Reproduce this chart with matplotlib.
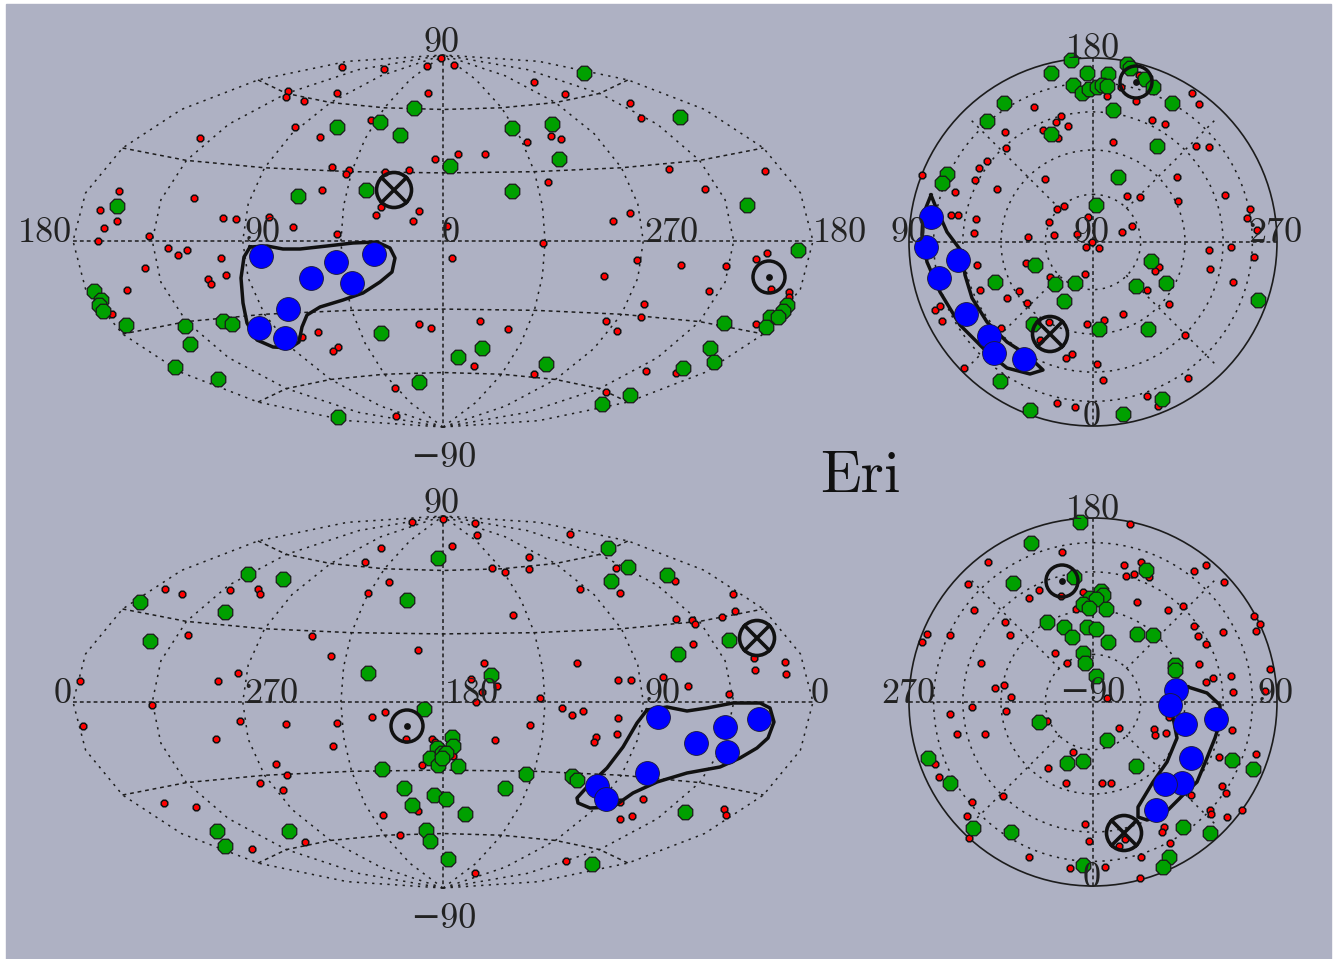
import numpy as np
from matplotlib import pyplot as plt
from matplotlib.patches import Rectangle, Circle

# top left panel
tl_red = [(342,67),(384,69),(427,66),(441,58),(288,91),(286,97),(304,101),(337,93),(428,93),(371,120),
          (295,127),(320,137),(200,138),(435,159),(332,167),(349,170),(346,174),(385,172),(409,170),(322,190),
          (381,207),(376,215),(419,211),(413,221),(119,191),(194,198),(100,210),(117,221),(104,228),(223,218),
          (236,219),(269,217),(293,227),(337,234),(149,236),(98,241),(168,248),(178,255),(187,250),(221,258),
          (145,268),(226,275),(208,279),(211,284),(127,290),(112,314),(302,337),(318,332),(338,347),(333,351),
          (419,324),(431,328),(395,388),(396,416),(454,65),(534,82),(565,94),(630,103),(641,118),(527,142),
          (551,136),(561,139),(458,154),(485,154),(669,169),(765,171),(548,182),(705,189),(630,213),(613,221),
          (447,226),(543,243),(452,258),(637,260),(681,265),(604,276),(726,266),(709,291),(767,253),(756,259),
          (771,289),(789,292),(789,297),(756,324),(644,304),(641,317),(606,321),(617,331),(480,321),(508,329),
          (474,366),(534,374),(646,371),(676,373),(606,392)]
tl_green = [(414,108),(380,122),(337,127),(400,135),(298,196),(366,190),(117,206),(94,291),(101,300),(99,305),
            (103,311),(126,325),(185,326),(190,344),(175,367),(218,379),(223,321),(232,324),(381,333),(419,382),
            (338,417),(584,73),(680,117),(512,128),(552,124),(559,159),(450,166),(512,191),(747,205),(798,250),
            (787,305),(783,311),(770,317),(778,317),(766,327),(724,323),(710,348),(714,362),(683,368),(630,395),
            (602,404),(482,348),(458,357),(546,364)]
tl_blue = [(261,256),(311,278),(336,262),(374,254),(352,283),(288,309),(259,328),(285,338)]
tl_contour = [(250,247),(267,246),(283,249),(300,249),(327,246),(353,243),(377,242),(390,248),(395,258),(392,272),
              (380,282),(363,293),(343,300),(320,307),(307,315),(302,327),(299,342),(290,348),(273,347),(257,340),
              (247,323),(243,303),(241,278),(244,257),(250,247)]

# top right panel
tr_red = [(1192,93),(1199,104),(1034,107),(1061,116),(1056,122),(1068,126),(1043,130),(1058,138),(1005,132),(1006,148),
          (987,161),(979,168),(975,180),(922,175),(955,192),(997,189),(1045,179),(1113,142),(1152,120),(1165,124),
          (1196,146),(1209,147),(1177,177),(1225,195),(1178,201),(1127,196),(1140,197),(1250,209),(1247,218),(1257,230),
          (1064,206),(1057,209),(1088,217),(1049,222),(951,215),(958,215),(976,219),(974,233),(1028,237),(1054,235),
          (1077,234),(1092,242),(1086,247),(1099,248),(1122,232),(1132,226),(1231,247),(1209,250),(1254,257),(1026,263),
          (977,265),(1159,267),(1155,271),(1210,269),(1233,282),(1050,277),(1085,274),(1147,290),(980,290),(1019,291),
          (1007,298),(1027,303),(935,310),(940,306),(942,321),(1169,304),(1123,314),(1104,320),(1087,324),(1049,322),
          (1001,328),(1185,335),(1040,340),(1072,354),(1066,358),(1097,364),(1103,380),(1188,378),(964,368),(1147,396),
          (1158,406),(1057,403),(1075,407),(1139,75),(1121,87),(1136,101),(1107,96)]
tr_green = [(1071,60),(1051,73),(1087,73),(1108,74),(1127,64),(1130,68),(1145,79),(1153,87),(1073,85),(1082,93),
            (1089,89),(1097,87),(1102,85),(1107,86),(1172,103),(1004,103),(987,121),(1113,110),(1051,134),(1157,146),
            (947,174),(942,183),(1118,177),(1096,205),(1035,265),(1151,261),(995,282),(1055,284),(1075,283),(1136,286),
            (1166,283),(1064,301),(1258,300),(1033,324),(1099,329),(1148,329),(1000,381),(1162,399),(1030,410),(1123,414)]
tr_blue = [(931,217),(926,247),(958,260),(939,278),(966,314),(989,336),(994,353),(1024,359)]
tr_contour = [(931,195),(935,205),(947,232),(962,252),(965,275),(972,298),(987,322),(1007,342),(1027,355),(1043,370),
              (1030,374),(1007,368),(987,352),(960,325),(940,292),(927,262),(922,235),(923,215),(931,195)]

# bottom left panel
bl_red = [(412,522),(443,519),(381,548),(365,562),(389,582),(368,593),(165,589),(182,594),(230,590),(258,589),
          (260,594),(188,635),(312,636),(418,650),(331,656),(80,681),(238,673),(218,681),(152,705),(372,717),
          (385,712),(83,726),(240,721),(286,724),(337,723),(216,739),(333,746),(406,739),(432,739),(435,742),
          (276,764),(287,775),(260,783),(283,790),(422,765),(164,803),(196,807),(383,815),(418,811),(400,835),
          (305,842),(252,849),(475,523),(477,535),(452,546),(570,534),(529,557),(492,568),(505,572),(529,569),
          (616,568),(675,581),(580,589),(620,593),(733,594),(735,611),(722,617),(676,619),(692,620),(695,624),
          (513,615),(693,644),(484,663),(577,663),(754,658),(785,662),(755,670),(786,674),(471,679),(497,686),
          (482,692),(476,702),(618,680),(631,680),(663,677),(688,686),(729,694),(540,698),(562,708),(572,715),
          (583,711),(618,718),(530,725),(495,740),(617,734),(596,737),(594,742),(453,756),(620,802),(643,799),
          (620,819),(632,816),(724,809),(726,815),(566,861),(475,873)]
bl_green = [(438,558),(248,574),(283,579),(140,602),(407,600),(225,612),(150,641),(368,673),(424,709),(382,769),
            (404,788),(434,795),(412,805),(426,830),(430,841),(217,831),(289,831),(225,846),(437,748),(430,758),
            (438,765),(442,753),(608,548),(628,567),(667,575),(611,581),(729,640),(678,654),(491,675),(452,737),
            (453,746),(446,753),(458,766),(442,758),(526,774),(505,788),(572,776),(577,780),(446,799),(465,814),
            (685,812),(448,859),(592,864)]
bl_blue = [(658,717),(696,743),(725,727),(759,719),(727,752),(647,773),(597,786),(606,799)]
bl_contour = [(647,710),(667,707),(687,711),(707,708),(733,703),(760,703),(770,708),(774,722),(768,738),(757,748),
              (740,758),(720,767),(687,773),(657,782),(633,793),(613,807),(590,808),(578,803),(577,798),(587,787),
              (607,768),(623,747),(637,723),(647,710)]

# bottom right panel
br_red = [(1130,524),(1062,552),(988,562),(1124,565),(1141,562),(1206,565),(1194,571),(1126,576),(1134,574),(1149,577),
          (968,584),(1224,582),(1039,590),(1029,598),(1083,592),(1137,602),(1076,609),(974,610),(1168,610),(1183,606),
          (1005,622),(1194,626),(1254,616),(1260,624),(1256,631),(1223,632),(1198,636),(1206,644),(927,634),(922,642),
          (950,635),(1010,635),(1055,653),(1067,663),(981,663),(1199,664),(1270,669),(1231,676),(1213,678),(1206,682),
          (1233,692),(1265,691),(995,688),(1004,685),(1011,697),(1107,698),(972,707),(1006,711),(950,714),(1047,721),
          (1169,717),(957,734),(985,734),(1119,728),(1154,729),(1155,735),(1166,733),(1232,730),(1073,752),(1256,754),
          (1219,757),(935,764),(939,777),(1048,768),(1066,783),(1102,783),(1111,783),(1003,796),(1222,786),(1226,793),
          (1191,795),(972,802),(1210,810),(1211,814),(1227,817),(1242,810),(967,816),(1085,824),(1164,827),(1162,832),
          (969,838),(1089,841),(1125,839),(1119,846),(1170,843),(1029,857),(1141,857),(1070,868),(1105,867),(1140,878),
          (1061,596)]
br_green = [(1080,522),(1031,543),(1146,570),(1013,583),(1074,577),(1101,591),(1103,595),(1090,598),(1096,599),(1083,604),
            (1089,608),(1106,609),(1047,622),(1064,627),(1087,627),(1096,629),(1072,637),(1137,634),(1153,635),(1108,642),
            (1083,653),(1085,663),(1175,665),(1175,670),(1096,676),(1039,722),(1107,740),(928,758),(1083,761),(1067,763),
            (1136,766),(1232,760),(1253,769),(950,783),(1183,827),(1210,833),(973,828),(1011,832),(1169,857),(1163,867),
            (1083,865)]
br_blue = [(1176,690),(1170,705),(1216,719),(1185,724),(1191,758),(1182,783),(1165,784),(1156,810)]
br_contour = [(1188,687),(1207,693),(1220,705),(1220,722),(1215,738),(1207,758),(1197,782),(1183,795),(1163,815),(1147,820),
              (1138,817),(1138,807),(1153,782),(1167,762),(1177,738),(1172,712),(1167,695),(1188,687)]

# sun and apex symbols
sun_pos = [(769,277),(1136,82),(407,726),(1062,581)]
cross_pos = [(394,190),(1050,334),(757,638),(1124,833)]

# tick labels, y is the baseline
labels = [('90',442,52),('\u221290',443,467),('180',45,242),('90',263,242),('0',451,242),('270',671,242),('180',840,242),
          ('180',1093,58),('90',909,242),('90',1092,242),('270',1275,242),('0',1092,426),
          ('90',442,513),('\u221290',443,928),('0',63,703),('270',271,703),('180',472,703),('90',663,703),('0',820,703),
          ('180',1093,519),('270',908,703),('\u221290',1092,702),('90',1276,703),('0',1092,887)]

bg = '#aeb1c3'
ink = '#1c1c1c'

fig = plt.figure(figsize=(13.43,9.59),dpi=100,facecolor='white')
ax = fig.add_axes([0,0,1,1])
ax.set_xlim(0,1343)
ax.set_ylim(959,0)
ax.axis('off')
ax.add_patch(Rectangle((6,4),1325,955,color=bg,zorder=0))

def hammer(lon,lat):
    lon = np.radians(lon)
    lat = np.radians(lat)
    d = np.sqrt(1+np.cos(lat)*np.cos(lon/2))
    return np.cos(lat)*np.sin(lon/2)/d, np.sin(lat)/d

def draw_hammer(cx,cy,a=370,b=186):
    # meridians every 45 deg, the graticule is a coarse polyline like the original
    lat = np.arange(-90,91,15)
    for lon in [-180,-135,-90,-45,45,90,135,180]:
        x,y = hammer(lon,lat)
        ax.plot(cx+a*x,cy-b*y,color=ink,lw=1.1,ls=(0,(1.5,3.5)),zorder=1)
    lon = np.arange(-180,181,45)
    for la in [-60,-30,30,60]:
        x,y = hammer(lon,la)
        ax.plot(cx+a*x,cy-b*y,color=ink,lw=1.1,ls=(0,(2.5,2.5)),zorder=1)
    ax.plot([cx-a,cx+a],[cy,cy],color=ink,lw=1.1,ls=(0,(2.5,2)),zorder=1)
    ax.plot([cx,cx],[cy-b,cy+b],color=ink,lw=1.1,ls=(0,(2.5,2)),zorder=1)

def draw_polar(cx,cy,r=184):
    ax.add_patch(Circle((cx,cy),r,fill=False,ec=ink,lw=1.2,zorder=1))
    for colat in [30,60,90,120]:
        rr = r*np.sin(np.radians(colat)/2)
        ax.add_patch(Circle((cx,cy),rr,fill=False,ec=ink,lw=1.1,ls=(0,(1.5,3.5)),zorder=1))
    for ang in [45,135,225,315]:
        c,s = np.cos(np.radians(ang)),np.sin(np.radians(ang))
        ax.plot([cx+47*c,cx+174*c],[cy+47*s,cy+174*s],color=ink,lw=1.1,ls=(0,(1.5,3.5)),zorder=1)
    ax.plot([cx-r,cx+r],[cy,cy],color=ink,lw=1.1,ls=(0,(2.5,2)),zorder=1)
    ax.plot([cx,cx],[cy-r,cy+r],color=ink,lw=1.1,ls=(0,(2.5,2)),zorder=1)

draw_hammer(443,241)
draw_hammer(443,702)
draw_polar(1093,242)
draw_polar(1093,702)

panels = [(tl_red,tl_green,tl_blue,tl_contour),(tr_red,tr_green,tr_blue,tr_contour),
          (bl_red,bl_green,bl_blue,bl_contour),(br_red,br_green,br_blue,br_contour)]
for red,green,blue,contour in panels:
    x,y = zip(*red)
    ax.scatter(x,y,s=26,marker='8',c='#ff0000',edgecolors='#111111',linewidths=1.1,zorder=3)
    x,y = zip(*green)
    ax.scatter(x,y,s=128,marker='8',c='#00a000',edgecolors='#1a1a1a',linewidths=0.9,zorder=4)
    x,y = zip(*contour)
    ax.plot(x,y,color='#111111',lw=2.5,zorder=5)
    x,y = zip(*blue)
    ax.scatter(x,y,s=295,c='#0000ff',edgecolors='#1a1a3a',linewidths=0.6,zorder=6)

for x,y in sun_pos:
    ax.add_patch(Circle((x,y),16,fill=False,ec='#111111',lw=2.5,zorder=7))
    ax.scatter([x],[y],s=24,c='#111111',linewidths=0,zorder=7)
for x,y in cross_pos:
    ax.add_patch(Circle((x,y),17.5,fill=False,ec='#111111',lw=2.6,zorder=7))
    d = 17.5*np.cos(np.radians(45))
    ax.plot([x-d,x+d],[y-d,y+d],color='#111111',lw=2.6,zorder=7)
    ax.plot([x-d,x+d],[y+d,y-d],color='#111111',lw=2.6,zorder=7)

for s,x,y in labels:
    ax.text(x,y,s,fontsize=26,family=['cmr10','DejaVu Serif'],color='#222222',ha='center',va='baseline',zorder=8)
ax.text(860,492,'Eri',fontsize=43,family=['cmr10','DejaVu Serif'],color='#111111',ha='center',va='baseline',zorder=8)

plt.savefig('out.png',dpi=100)
